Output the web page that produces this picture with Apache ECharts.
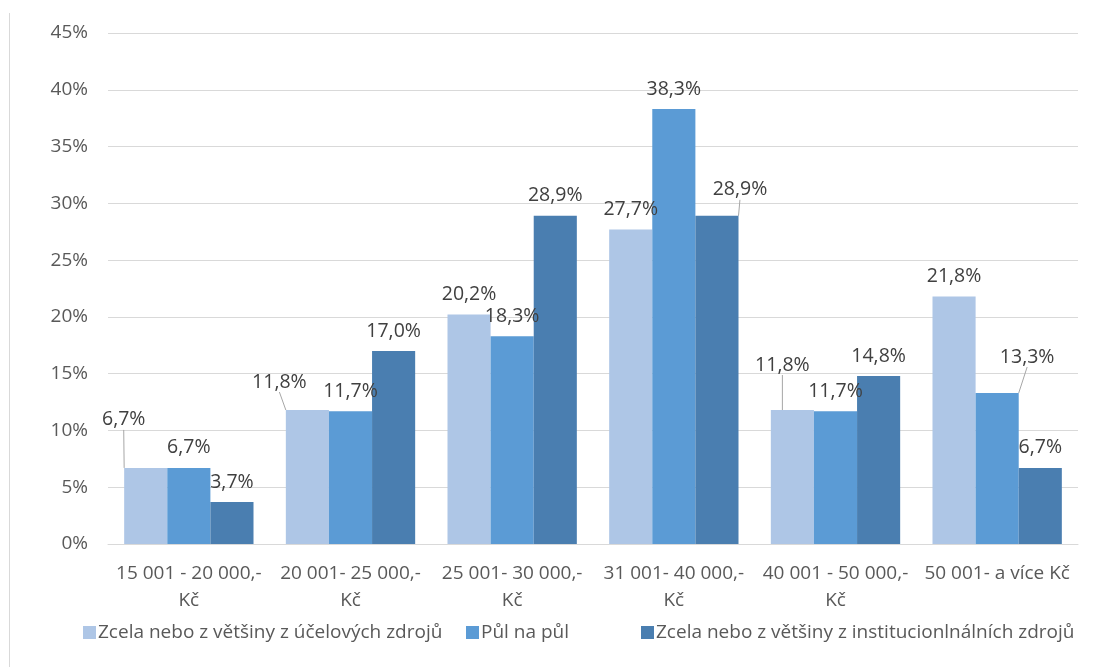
<!DOCTYPE html>
<html>
<head>
<meta charset="utf-8">
<title>Podíl podle příjmu</title>
<script src="https://cdn.jsdelivr.net/npm/echarts@6/dist/echarts.min.js"></script>
<style>
  html, body { margin: 0; padding: 0; background: #ffffff; }
  #chart { width: 1102px; height: 667px; }
</style>
</head>
<body>
<div id="chart"></div>
<script>
// Income bands on the category axis
const categories = [
  '15 001 - 20 000,-\nKč',
  '20 001- 25 000,-\nKč',
  '25 001- 30 000,-\nKč',
  '31 001- 40 000,-\nKč',
  '40 001 - 50 000,-\nKč',
  '50 001- a více Kč'
];

// Series names
const seriesNames = [
  'Zcela nebo z většiny z účelových zdrojů',
  'Půl na půl',
  'Zcela nebo z většiny z institucionlnálních zdrojů'
];

// Shares in percent
const ucelove = [6.7, 11.8, 20.2, 27.7, 11.8, 21.8];
const pulNaPul = [6.7, 11.7, 18.3, 38.3, 11.7, 13.3];
const instituc = [3.7, 17.0, 28.9, 28.9, 14.8, 6.7];

// Value-axis ticks
const yTicks = [0, 5, 10, 15, 20, 25, 30, 35, 40, 45];

const colors = ['#AEC6E6', '#5B9BD5', '#4A7EB0'];

// Left edge of each legend entry
const legendLefts = [78, 461, 636];

// Labels pushed aside from the bar top, with a leader line: [series, index, dx, dy]
const movedLabels = [
  [0, 0, -22, -28],
  [0, 1, -28, -8],
  [2, 3, 23, -6],
  [0, 4, -10, -25],
  [1, 5, 30, -16]
];

function moveFor(s, i) {
  for (const m of movedLabels) {
    if (m[0] === s && m[1] === i) return m;
  }
  return null;
}

const allValues = [ucelove, pulNaPul, instituc];

const chart = echarts.init(document.getElementById('chart'), null, { renderer: 'canvas' });

const series = allValues.map((vals, s) => ({
  name: seriesNames[s],
  type: 'bar',
  barGap: '0%',
  barCategoryGap: '20%',
  itemStyle: { color: colors[s] },
  label: {
    show: true,
    position: 'top',
    distance: 10,
    color: '#404040',
    fontFamily: 'Open Sans',
    fontSize: 19.5,
    formatter: p => p.value.toFixed(1).replace('.', ',') + '%'
  },
  labelLine: {
    lineStyle: { color: '#A6A6A6', width: 1 }
  },
  labelLayout: function (params) {
    const m = moveFor(params.seriesIndex, params.dataIndex);
    return m ? { dx: m[2], dy: m[3] } : {};
  },
  data: vals.map((v, i) => ({
    value: v,
    labelLine: { show: !!moveFor(s, i) }
  }))
}));

// One legend entry per series, each placed on its own
const legends = seriesNames.map((name, s) => ({
  data: [name],
  top: 618,
  left: legendLefts[s],
  padding: 5,
  itemWidth: 13,
  itemHeight: 13,
  icon: 'rect',
  textStyle: { color: '#595959', fontSize: 19, fontFamily: 'Open Sans', padding: [0, 0, 0, -3] }
}));

chart.setOption({
  animation: false,
  textStyle: { fontFamily: 'Open Sans' },
  graphic: [{
    type: 'line',
    shape: { x1: 9.5, y1: 13, x2: 9.5, y2: 667 },
    style: { stroke: '#D9D9D9', lineWidth: 1 }
  }],
  grid: { left: 108, right: 24, top: 33, bottom: 123, containLabel: false },
  legend: legends,
  xAxis: {
    type: 'category',
    data: categories,
    axisLine: { show: true, lineStyle: { color: '#D9D9D9' } },
    axisTick: { show: false },
    axisLabel: {
      color: '#595959',
      fontSize: 19,
      fontFamily: 'Open Sans',
      margin: 16,
      lineHeight: 27,
      interval: 0
    }
  },
  yAxis: {
    type: 'value',
    min: yTicks[0],
    max: yTicks[yTicks.length - 1],
    interval: yTicks[1] - yTicks[0],
    axisLine: { show: false },
    axisTick: { show: false },
    splitLine: { lineStyle: { color: '#D9D9D9', width: 1 } },
    axisLabel: {
      color: '#595959',
      fontSize: 19,
      fontFamily: 'Open Sans',
      margin: 20,
      formatter: v => v + '%'
    }
  },
  series: series
});
</script>
</body>
</html>
